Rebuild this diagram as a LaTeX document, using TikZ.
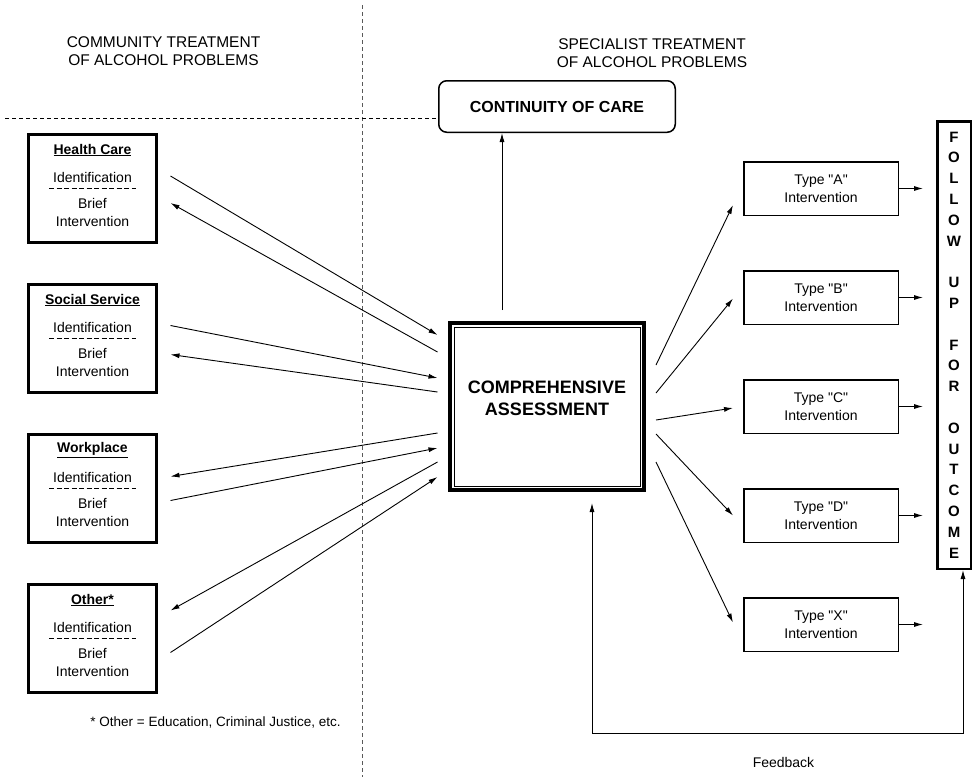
\documentclass[tikz,border=0pt]{standalone}
\usepackage{fontspec}
\setmainfont{Liberation Sans}[Ligatures=TeXOff]
\usetikzlibrary{arrows.meta,positioning}

\begin{document}
\begin{tikzpicture}[x=1pt,y=-1pt,font=\fontsize{14}{18}\selectfont,
commbox/.style={draw,line width=3pt,minimum width=128pt,minimum height=108pt},
intbox/.style={draw,line width=1.5pt,minimum width=154.5pt,minimum height=53.5pt,align=center},
compbox/.style={draw,line width=4pt,minimum width=194pt,minimum height=167pt},
contbox/.style={draw,rounded corners=8pt,line width=1.5pt,minimum width=236.5pt,minimum height=51.5pt,font=\fontsize{16}{19}\selectfont\bfseries},
fubox/.style={draw,line width=2.5pt,minimum width=33.5pt,minimum height=447.5pt,align=center,font=\fontsize{15}{20.8}\selectfont\bfseries},
heading/.style={align=center,font=\fontsize{15.5}{18}\selectfont},
arr/.style={-{Latex[length=9pt,width=5pt]},line width=0.9pt},
divider/.style={dash pattern=on 4pt off 3pt,line width=0.9pt},
sepline/.style={dash pattern=on 5pt off 2.5pt,line width=0.8pt}]
\useasboundingbox (0,0) rectangle (974,777);

% the two halves
\draw[divider,gray!70!black] (362,5) -- (362,777);
\draw[divider] (5,118) -- (438,118);
\node[heading] (commhead) at (163.5,51) {COMMUNITY TREATMENT\\OF ALCOHOL PROBLEMS};
\node[heading] (spechead) at (652,53) {SPECIALIST TREATMENT\\OF ALCOHOL PROBLEMS};

% community side
\node[commbox] (hc) at (92.5,188.5) {};
\node[commbox,below=39pt of hc] (ss) {};
\node[commbox,below=39pt of ss] (wp) {};
\node[commbox,below=39pt of wp] (oth) {};
\foreach \nm/\ttl in {hc/Health Care,ss/Social Service,wp/Workplace,oth/Other*}{
  \node[font=\fontsize{14}{18}\selectfont\bfseries] (\nm-title) at ([yshift=38.5pt]\nm.center) {\underline{\ttl}};
  \node (\nm-id) at ([yshift=11.5pt]\nm.center) {Identification};
  \draw[sepline] ([xshift=-43.5pt]\nm.center) -- ([xshift=43.5pt]\nm.center);
  \node[align=center,font=\fontsize{14}{18.5}\selectfont] (\nm-bi) at ([yshift=-24pt]\nm.center) {Brief\\Intervention};
}
\node[font=\fontsize{13.5}{16}\selectfont] (note) at (215.5,722) {* Other = Education, Criminal Justice, etc.};

% specialist side
\node[contbox] (cont) at (557,106.5) {CONTINUITY OF CARE};
\node[compbox] (comp) at (547,406.5) {};
\draw[line width=0.8pt] ([shift={(6pt,-6pt)}]comp.north west) rectangle ([shift={(-6pt,6pt)}]comp.south east);
\node[align=center,font=\fontsize{18}{21.7}\selectfont\bfseries] (comptxt) at ([yshift=8pt]comp.center) {COMPREHENSIVE\\ASSESSMENT};

\node[intbox] (intA) at (821,188.5) {Type "A"\\Intervention};
\node[intbox,below=54pt of intA] (intB) {Type "B"\\Intervention};
\node[intbox,below=54pt of intB] (intC) {Type "C"\\Intervention};
\node[intbox,below=54pt of intC] (intD) {Type "D"\\Intervention};
\node[intbox,below=54pt of intD] (intX) {Type "X"\\Intervention};

\node[fubox] (fu) at (954,345) {F\\O\\L\\L\\O\\W\\~\\U\\P\\~\\F\\O\\R\\~\\O\\U\\T\\C\\O\\M\\E};

% referrals in and out
\draw[arr] ([shift={(12.5pt,12.5pt)}]hc.east) -- ([shift={(-10.5pt,71.5pt)}]comp.west);
\draw[arr] ([shift={(-10.5pt,54.5pt)}]comp.west) -- ([shift={(12.5pt,-14.5pt)}]hc.east);
\draw[arr] ([shift={(12.5pt,13pt)}]ss.east) -- ([shift={(-10.5pt,28.5pt)}]comp.west);
\draw[arr] ([shift={(-10.5pt,14.5pt)}]comp.west) -- ([shift={(12.5pt,-16pt)}]ss.east);
\draw[arr] ([shift={(-10.5pt,-26.5pt)}]comp.west) -- ([shift={(12.5pt,12pt)}]wp.east);
\draw[arr] ([shift={(12.5pt,-12pt)}]wp.east) -- ([shift={(-10.5pt,-41.5pt)}]comp.west);
\draw[arr] ([shift={(-10.5pt,-55.5pt)}]comp.west) -- ([shift={(12.5pt,28pt)}]oth.east);
\draw[arr] ([shift={(12.5pt,-14pt)}]oth.east) -- ([shift={(-10.5pt,-70.5pt)}]comp.west);

\draw[arr] ([shift={(-45pt,11pt)}]comp.north) -- ([xshift=-45pt]comp.north |- cont.south);
\foreach \ltr/\sy/\ey in {A/41.5/-16.5,B/13.5/-1,C/-13.5/-1.5,D/-27.5/0,X/-55.5/2}{
  \draw[arr] ([shift={(10pt,\sy pt)}]comp.east) -- ([shift={(-10pt,\ey pt)}]int\ltr.west);
  \draw[arr] (int\ltr.east) -- ([xshift=-13pt]fu.west |- int\ltr.east);
}

% feedback loop
\coordinate (fbcorner) at (963,733);
\draw[{Latex[length=9pt,width=5pt]}-{Latex[length=9pt,width=5pt]},line width=0.9pt]
  ([shift={(45pt,-11pt)}]comp.south) |- (fbcorner) -- ([xshift=9pt]fu.south);
\node (fblabel) at (783.5,762) {Feedback};
\end{tikzpicture}
\end{document}
